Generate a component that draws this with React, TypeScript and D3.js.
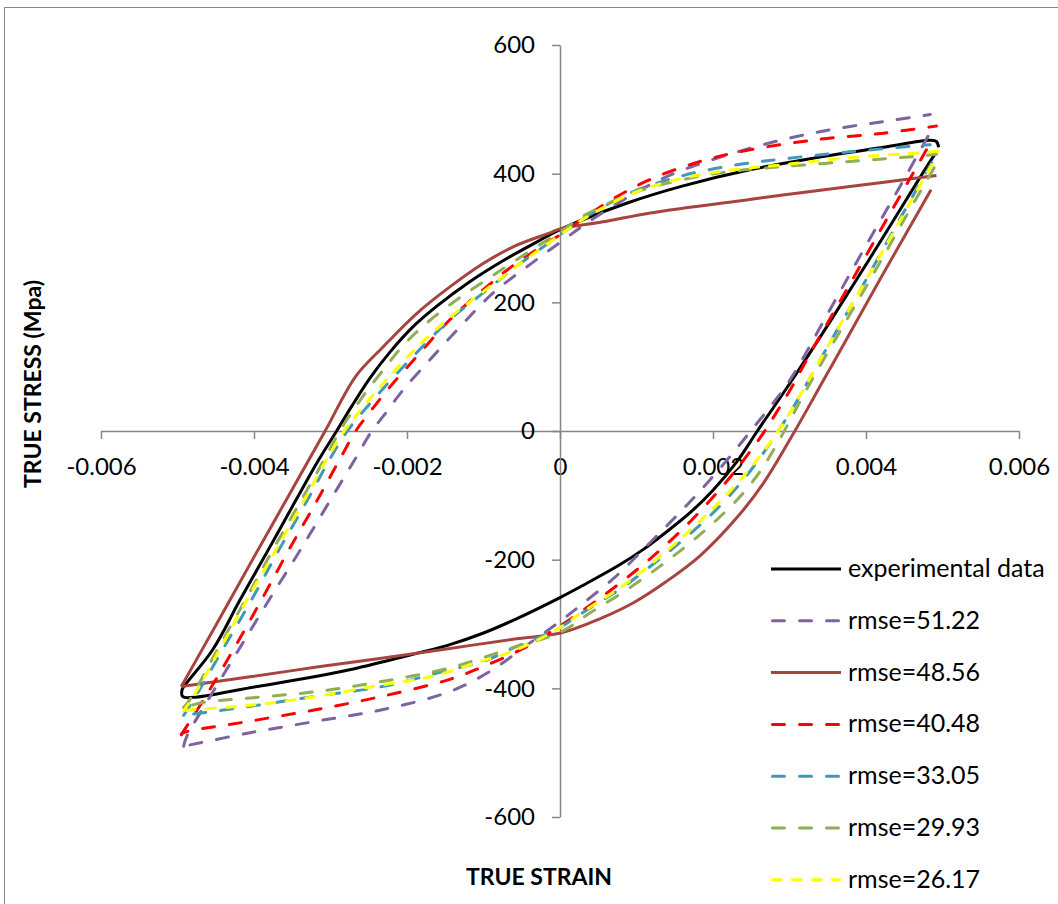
import React, { useEffect, useRef } from 'react';
import * as d3 from 'd3';

type Pt = [number, number];

// axis ticks
const xTicks = [-0.006, -0.004, -0.002, 0, 0.002, 0.004, 0.006];
const yTicks = [-600, -400, -200, 0, 200, 400, 600];

// [true strain, true stress (MPa)] - each loop starts at the top-right unloading point
const experimental: Pt[] = [
  [0.00492, 433], [0.00486, 423], [0.00418, 293], [0.00353, 170], [0.00301, 75], [0.00258, 0],
  [0.00231, -48], [0.002, -92], [0.0017, -127], [0.00139, -157], [0.00109, -184], [0.00078, -208],
  [0.0003, -240], [0, -259], [-0.00057, -292], [-0.001, -314], [-0.00144, -332], [-0.00209, -352],
  [-0.00275, -371], [-0.0034, -386], [-0.00405, -399], [-0.00479, -414], [-0.00493, -413],
  [-0.00494, -402], [-0.00489, -393], [-0.00454, -340], [-0.00418, -262], [-0.00381, -184],
  [-0.00345, -107], [-0.00315, -44], [-0.00292, 0], [-0.00272, 39], [-0.00248, 83], [-0.00222, 123],
  [-0.00193, 161], [-0.00161, 194], [-0.00118, 232], [-0.00074, 265], [-0.0003, 294], [0, 313],
  [0.00087, 354], [0.00161, 381], [0.00248, 406], [0.00336, 425], [0.00423, 441], [0.00484, 452],
  [0.00492, 450], [0.00495, 441],
];

const rmse5122: Pt[] = [
  [0.00481, 458], [0.00442, 375], [0.00397, 282], [0.00353, 189], [0.00301, 80], [0.00275, 38],
  [0.00248, -2], [0.00222, -40], [0.00196, -76], [0.0017, -110], [0.00139, -148], [0.00109, -184],
  [0.00074, -225], [0.0003, -268], [0, -296], [-0.00046, -335], [-0.00092, -374], [-0.00144, -405],
  [-0.00231, -433], [-0.00318, -451], [-0.00405, -469], [-0.00492, -490], [-0.00488, -475],
  [-0.0046, -418], [-0.0042, -340], [-0.0038, -262], [-0.00339, -184], [-0.003, -107],
  [-0.00268, -44], [-0.00246, 0], [-0.00231, 23], [-0.00205, 64], [-0.00166, 116], [-0.00126, 168],
  [-0.00087, 215], [-0.00039, 259], [0, 293], [0.0003, 319], [0.00074, 353], [0.00118, 383],
  [0.00161, 406], [0.00227, 432], [0.00292, 453], [0.00357, 469], [0.00423, 481], [0.00484, 492],
];

const rmse4856: Pt[] = [
  [0.00485, 375], [0.00418, 235], [0.00379, 152], [0.00344, 78], [0.00307, 0], [0.00266, -81],
  [0.00231, -135], [0.00183, -194], [0.00139, -234], [0.00096, -267], [0.00052, -292], [0.00001, -314],
  [-0.00057, -323], [-0.00144, -338], [-0.00231, -353], [-0.00318, -367], [-0.00405, -382],
  [-0.00495, -397], [-0.00448, -298], [-0.00401, -198], [-0.00354, -99], [-0.00307, 0],
  [-0.00267, 85], [-0.00231, 131], [-0.00187, 183], [-0.00144, 224], [-0.00101, 260], [-0.00058, 288],
  [-0.00013, 308], [0, 314], [0.00061, 326], [0.00118, 339], [0.00248, 360], [0.00379, 380],
  [0.00492, 397],
];

const rmse4048: Pt[] = [
  [0.00479, 437], [0.00427, 329], [0.00375, 220], [0.0033, 127], [0.00301, 64], [0.00283, 29],
  [0.00266, -3], [0.00231, -59], [0.00205, -96], [0.0017, -141], [0.00131, -185], [0.00096, -220],
  [0.00052, -260], [0.00009, -296], [-0.00005, -307], [-0.00048, -338], [-0.001, -366],
  [-0.00144, -386], [-0.00231, -412], [-0.00318, -433], [-0.00405, -451], [-0.00492, -469],
  [-0.00495, -472], [-0.00466, -418], [-0.00427, -340], [-0.0039, -262], [-0.00354, -184],
  [-0.00317, -107], [-0.00288, -44], [-0.00267, 0], [-0.00254, 21], [-0.00222, 69], [-0.00187, 116],
  [-0.00144, 173], [-0.001, 220], [-0.00057, 261], [0.00004, 308], [0.0003, 330], [0.00074, 364],
  [0.00118, 391], [0.00183, 419], [0.00248, 437], [0.00336, 453], [0.00423, 463], [0.00492, 474],
];

const rmse3305: Pt[] = [
  [0.00486, 417], [0.00444, 329], [0.004, 235], [0.00355, 142], [0.00318, 64], [0.00301, 29],
  [0.00283, -4], [0.00257, -49], [0.00231, -88], [0.00196, -132], [0.00161, -169], [0.00126, -203],
  [0.00083, -242], [0.0003, -282], [-0.00005, -309], [-0.00057, -335], [-0.001, -358],
  [-0.00144, -371], [-0.00231, -397], [-0.00318, -412], [-0.00405, -428], [-0.00492, -442],
  [-0.00479, -418], [-0.00441, -340], [-0.00403, -262], [-0.00367, -184], [-0.0033, -107],
  [-0.00301, -44], [-0.00278, 0], [-0.0024, 54], [-0.00192, 116], [-0.00144, 173], [-0.001, 215],
  [-0.00057, 256], [0.00004, 308], [0.0003, 330], [0.00096, 372], [0.00161, 397], [0.00227, 413],
  [0.00292, 423], [0.00379, 434], [0.00484, 445],
];

const rmse2993: Pt[] = [
  [0.00489, 409], [0.00452, 333], [0.00413, 251], [0.00373, 169], [0.00322, 64], [0.00289, -9],
  [0.00266, -55], [0.0024, -96], [0.00205, -138], [0.0017, -174], [0.00131, -210], [0.00087, -247],
  [0.00039, -283], [0, -313], [-0.00057, -335], [-0.00144, -368], [-0.00231, -389], [-0.00318, -405],
  [-0.00405, -415], [-0.00467, -422], [-0.00492, -430], [-0.00484, -418], [-0.00448, -340],
  [-0.00411, -262], [-0.00375, -184], [-0.00338, -107], [-0.00308, -44], [-0.00288, 0],
  [-0.00272, 29], [-0.00254, 60], [-0.00231, 95], [-0.00205, 133], [-0.00174, 168], [-0.00135, 204],
  [-0.001, 232], [-0.00057, 266], [0.00004, 313], [0.0003, 334], [0.00096, 370], [0.00161, 391],
  [0.00227, 404], [0.00292, 411], [0.00379, 419], [0.00466, 427], [0.00492, 430],
];

const rmse2617: Pt[] = [
  [0.00486, 414], [0.0046, 360], [0.00423, 282], [0.00385, 204], [0.00348, 127], [0.00318, 64],
  [0.00292, 12], [0.00266, -32], [0.00231, -82], [0.00196, -125], [0.00161, -164], [0.00126, -200],
  [0.00083, -240], [0.0003, -281], [-0.00005, -309], [-0.00057, -340], [-0.00114, -362],
  [-0.00166, -381], [-0.00244, -397], [-0.00331, -415], [-0.00418, -428], [-0.00479, -433],
  [-0.00492, -435], [-0.00482, -418], [-0.00445, -340], [-0.00409, -262], [-0.00371, -184],
  [-0.00334, -107], [-0.00305, -44], [-0.00282, 0], [-0.00266, 25], [-0.00231, 74], [-0.00187, 130],
  [-0.00144, 176], [-0.001, 217], [-0.00057, 256], [0.00004, 308], [0.0003, 329], [0.00096, 370],
  [0.00161, 393], [0.00227, 406], [0.00292, 414], [0.00379, 425], [0.00466, 432], [0.00495, 435],
];

const seriesData = [experimental, rmse5122, rmse4856, rmse4048, rmse3305, rmse2993, rmse2617];
const seriesNames = ['experimental data', 'rmse=51.22', 'rmse=48.56', 'rmse=40.48', 'rmse=33.05', 'rmse=29.93', 'rmse=26.17'];
const seriesColors = ['#000000', '#7F62A1', '#A6443F', '#FF0000', '#4298B5', '#8FAE55', '#FFFF00'];
const seriesDash = ['none', '12 15', 'none', '12 15', '12 15', '12 15', '8.7 11.3'];

const FONT = 'Lato, "Open Sans", sans-serif';

const App = () => {
  const ref = useRef<SVGSVGElement>(null);

  useEffect(() => {
    const svg = d3.select(ref.current);
    svg.selectAll('*').remove();

    const x = d3.scaleLinear().domain([-0.006, 0.006]).range([101, 1019]);
    const y = d3.scaleLinear().domain([-600, 600]).range([817, 45]);

    // chart frame
    svg.append('rect')
      .attr('x', 4.5).attr('y', 7.5)
      .attr('width', 1100).attr('height', 1000)
      .attr('fill', 'white')
      .attr('stroke', '#868686')
      .attr('stroke-width', 1);

    // x axis through y = 0
    const gx = svg.append('g')
      .attr('transform', `translate(0,${y(0)})`)
      .call(d3.axisBottom(x).tickValues(xTicks).tickSize(8).tickSizeOuter(0).tickPadding(19)
        .tickFormat(d => (+d === 0 ? '0' : (+d).toFixed(3))));
    gx.selectAll('path, line').attr('stroke', '#868686').attr('stroke-width', 1.5);
    gx.selectAll('text').attr('fill', '#000').style('font-family', FONT).style('font-size', '24px');

    // y axis through x = 0
    const gy = svg.append('g')
      .attr('transform', `translate(${x(0)},0)`)
      .call(d3.axisLeft(y).tickValues(yTicks).tickSize(8).tickSizeOuter(0).tickPadding(17)
        .tickFormat(d => String(d)));
    gy.selectAll('path, line').attr('stroke', '#868686').attr('stroke-width', 1.5);
    gy.selectAll('text').attr('fill', '#000').style('font-family', FONT).style('font-size', '24px');

    // axis titles
    svg.append('text')
      .attr('transform', 'translate(41,384) rotate(-90)')
      .attr('text-anchor', 'middle')
      .style('font-family', FONT).style('font-size', '23px').style('font-weight', 'bold')
      .text('TRUE STRESS (Mpa)');
    svg.append('text')
      .attr('x', 539).attr('y', 885)
      .attr('text-anchor', 'middle')
      .style('font-family', FONT).style('font-size', '23px').style('font-weight', 'bold')
      .text('TRUE STRAIN');

    // loops
    const line = d3.line<Pt>()
      .x(d => x(d[0]))
      .y(d => y(d[1]))
      .curve(d3.curveCatmullRom.alpha(0.5));

    seriesData.forEach((data, i) => {
      // model loops have a sharp corner at the compressive peak
      let parts: Pt[][] = [data];
      if (i > 0) {
        const k = d3.minIndex(data, d => d[0]);
        parts = [data.slice(0, k + 1), data.slice(k)];
      }
      const dashed = seriesDash[i] !== 'none';
      parts.forEach(part => {
        svg.append('path')
          .attr('d', line(part))
          .attr('fill', 'none')
          .attr('stroke', seriesColors[i])
          .attr('stroke-width', 3)
          .attr('stroke-dasharray', seriesDash[i])
          .attr('stroke-linecap', dashed ? 'round' : 'butt')
          .attr('stroke-linejoin', 'round');
      });
    });

    // legend
    const legend = svg.append('g').attr('transform', 'translate(771,569)');
    seriesNames.forEach((name, i) => {
      const row = legend.append('g').attr('transform', `translate(0,${i * 51.8})`);
      const dashed = seriesDash[i] !== 'none';
      row.append('line')
        .attr('x1', dashed ? 1.5 : 0).attr('x2', dashed ? 68.5 : 70)
        .attr('y1', 0).attr('y2', 0)
        .attr('stroke', seriesColors[i])
        .attr('stroke-width', 3)
        .attr('stroke-dasharray', seriesDash[i])
        .attr('stroke-linecap', dashed ? 'round' : 'butt');
      row.append('text')
        .attr('x', 77).attr('y', 8)
        .style('font-family', FONT).style('font-size', '25px')
        .text(name);
    });
  }, []);

  return (
    <svg
      ref={ref}
      width={1058}
      height={904}
      style={{ position: 'absolute', left: 0, top: 0, background: '#fff' }}
    />
  );
};

export default App;
